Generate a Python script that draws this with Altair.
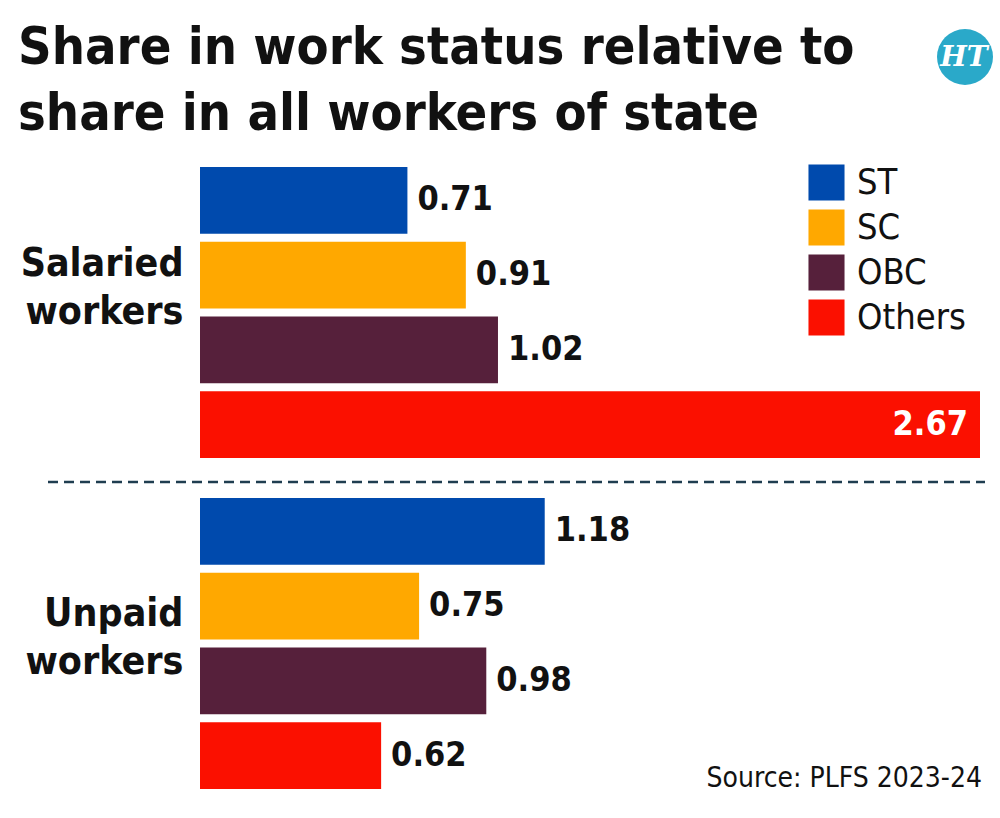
import altair as alt
import pandas as pd

groups = ["Salaried workers", "Unpaid workers"]
categories = ["ST", "SC", "OBC", "Others"]
salaried = [0.71, 0.91, 1.02, 2.67]
unpaid = [1.18, 0.75, 0.98, 0.62]
colors = ["#004aad", "#ffa800", "#56203b", "#fb1000"]
title_lines = ["Share in work status relative to", "share in all workers of state"]
source_text = "Source: PLFS 2023-24"
logo_text = "HT"

rows = []
for g, vals in zip(groups, [salaried, unpaid]):
    for c, v in zip(categories, vals):
        rows.append({"group": g, "cat": c, "value": v, "label": f"{v:.2f}"})
df = pd.DataFrame(rows)

FONT = "DejaVu Sans Condensed, Roboto Condensed, Arial Narrow, sans-serif"
W, H = 780, 622

y_enc = alt.Y("group:N", sort=groups, title=None,
              scale=alt.Scale(paddingInner=0.121, paddingOuter=0),
              axis=alt.Axis(labelExpr="split(datum.label, ' ')", labelFont=FONT,
                            labelFontSize=39, labelFontWeight="bold", labelColor="#111",
                            labelLineHeight=48, labelPadding=17, ticks=False,
                            domain=False, labelAlign="right",
                            labelOffset={"condition": {"test": "datum.value == 'Salaried workers'",
                                                       "value": -48}, "value": -30}))
yoff = alt.YOffset("cat:N", sort=categories,
                   scale=alt.Scale(paddingInner=0.107, paddingOuter=0))
x_enc = alt.X("value:Q", axis=None, scale=alt.Scale(domain=[0, 2.67], nice=False))

base = alt.Chart(df)
bars = base.mark_bar().encode(
    x=x_enc, y=y_enc, yOffset=yoff,
    color=alt.Color("cat:N", sort=categories,
                    scale=alt.Scale(domain=categories, range=colors),
                    legend=alt.Legend(title=None, orient="none", legendX=608, legendY=-3,
                                      symbolType="square", symbolSize=1300,
                                      symbolStrokeWidth=0, labelFont=FONT,
                                      labelFontSize=36, labelColor="#111",
                                      rowPadding=8, labelOffset=12)),
)
labels_out = base.transform_filter("datum.value < 2").mark_text(
    align="left", dx=10, font=FONT, fontSize=34, fontWeight="bold", color="#111"
).encode(x=x_enc, y=y_enc, yOffset=yoff, text="label:N")
labels_in = base.transform_filter("datum.value >= 2").mark_text(
    align="right", dx=-12, font=FONT, fontSize=34, fontWeight="bold", color="white"
).encode(x=x_enc, y=y_enc, yOffset=yoff, text="label:N")

sep = alt.Chart(pd.DataFrame({"a": [0]})).mark_rule(
    strokeDash=[10, 6], color="#1f3d50", strokeWidth=2.5
).encode(x=alt.value(-152), x2=alt.value(785), y=alt.value(315))

src = alt.Chart(pd.DataFrame({"t": [source_text]})).mark_text(
    align="right", baseline="alphabetic", font=FONT, fontSize=28, color="#111"
).encode(x=alt.value(782), y=alt.value(620), text="t:N")

logo_c = alt.Chart(pd.DataFrame({"t": [logo_text]})).mark_point(
    shape="circle", filled=True, size=3136, color="#2aa9c9", opacity=1
).encode(x=alt.value(765), y=alt.value(-110))
logo_t = alt.Chart(pd.DataFrame({"t": [logo_text]})).mark_text(
    font="DejaVu Serif", fontSize=28, fontWeight="bold", fontStyle="italic", color="white"
).encode(x=alt.value(764), y=alt.value(-109), text="t:N")

chart = alt.layer(bars, labels_out, labels_in, sep, src, logo_c, logo_t).properties(
    width=W, height=H,
    autosize=alt.AutoSizeParams(type="none"),
    padding={"left": 200, "top": 167, "right": 20, "bottom": 29},
    title=alt.TitleParams(title_lines, anchor="start", frame="group", dx=-182, dy=112,
                          font=FONT, fontSize=52, fontWeight="bold", color="#111",
                          lineHeight=66, offset=0),
).configure_view(stroke=None)

chart.save("out.html", embed_options={"renderer": "svg", "actions": False})
